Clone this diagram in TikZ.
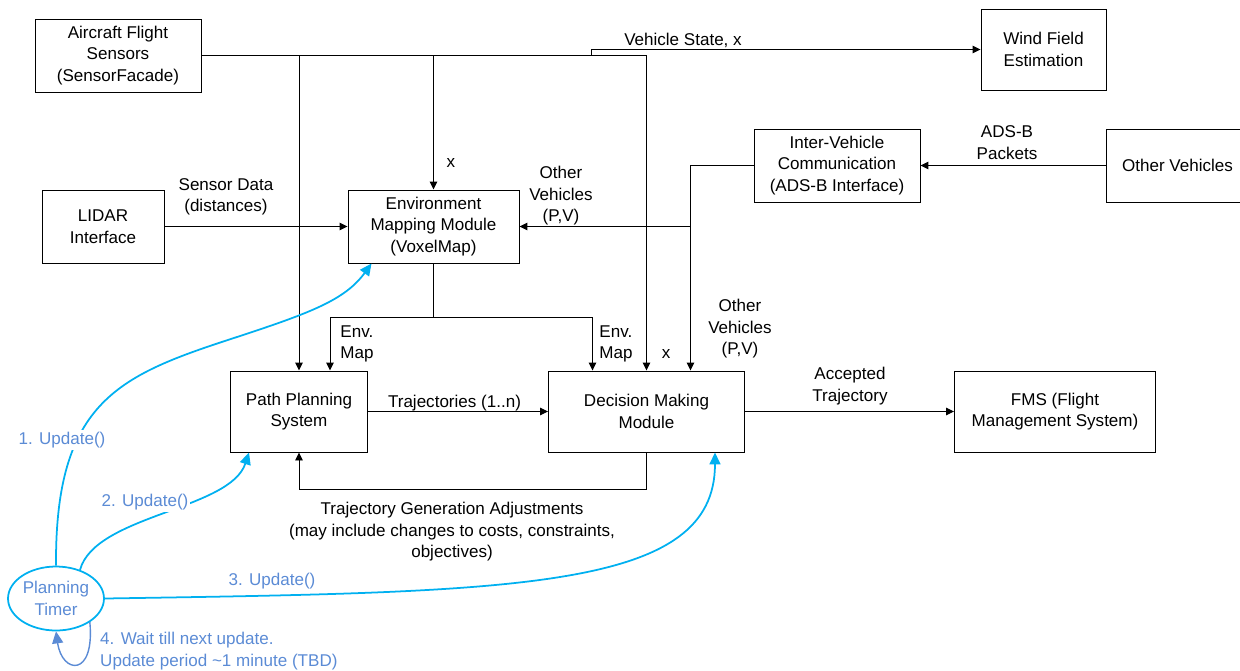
\documentclass[tikz,border=0pt]{standalone}
\usepackage{fontspec}
\setmainfont{Liberation Sans}
\usetikzlibrary{arrows.meta,shapes.geometric}
\definecolor{tcyan}{RGB}{0,176,240}
\definecolor{tblue}{RGB}{91,139,213}

\begin{document}
\begin{tikzpicture}[x=0.02cm, y=-0.02cm,
    font=\fontsize{9.7}{12.2}\selectfont,
    >={Triangle[length=1.6mm, width=1.5mm]},
    line width=0.55pt,
    box/.style={draw, align=center, inner sep=0pt},
    lbl/.style={align=center, inner sep=1pt},
    upd/.style={tcyan, line width=1pt, -{Triangle[length=2.4mm, width=2.2mm]}},
    note/.style={tblue, align=center, inner sep=1pt}]
\useasboundingbox (0, 0) rectangle (1240, 670);
\clip (0, 0) rectangle (1240, 670);

\node [box, minimum width=3.32cm, minimum height=1.46cm] (afs) at (118, 55.5) {Aircraft Flight\\Sensors\\(SensorFacade)};
\node [box, minimum width=2.5cm, minimum height=1.62cm] (wind) at (1043.5, 49.5) {Wind Field\\Estimation};
\node [box, minimum width=2.44cm, minimum height=1.46cm] (lidar) at (103, 226.5) {LIDAR\\Interface};
\node [box, minimum width=3.42cm, minimum height=1.46cm] (env) at (433.5, 226.5) {Environment\\Mapping Module\\(VoxelMap)};
\node [box, minimum width=3.32cm, minimum height=1.46cm] (ivc) at (837, 165.5) {Inter-Vehicle\\Communication\\(ADS-B Interface)};
\node [box, minimum width=2.84cm, minimum height=1.46cm] (othv) at (1177.5, 165.5) {Other Vehicles};
\node [box, minimum width=2.74cm, minimum height=1.62cm] (pps) at (299, 411.5) {Path Planning\\System};
\node [box, minimum width=3.92cm, minimum height=1.62cm] (dmm) at (646.5, 411.5) {Decision Making\\Module};
\node [box, minimum width=4.02cm, minimum height=1.62cm] (fms) at (1055, 411.5) {FMS (Flight\\Management System)};
\node [ellipse, draw=tcyan, line width=1pt, text=tblue, align=center, inner sep=0pt,
       minimum width=1.92cm, minimum height=1.28cm] (timer) at (56, 598.5) {Planning\\Timer};

\coordinate (jog) at (591.5, 55.5);
\coordinate (ovj) at (690.5, 226.5);
\coordinate (envj) at (433.5, 317);

\draw [->] (afs.east) -| (dmm.north);
\draw [->] (afs.east -| pps.north) -- (pps.north);
\draw [->] (afs.east -| env.north) -- (env.north);
\draw [->] (jog) |- (wind.west);
\draw [->] (lidar.east) -- (env.west);
\draw [->] (othv.west) -- (ivc.east);
\draw (ivc.west) -| (ovj);
\draw [->] (ovj) -- (env.east);
\draw [->] (ovj) -- (ovj |- dmm.north);
\draw (env.south) -- (envj);
\draw [->] (envj) -| ([xshift=0.62cm]pps.north);
\draw [->] (envj) -| ([xshift=-1.08cm]dmm.north);
\draw [->] (pps.east) -- (dmm.west);
\draw [->] (dmm.east) -- (fms.west);
\draw [->] (dmm.south) -- ++(0, 36.5) -| (pps.south);

\node [lbl] (vstate) at (683, 40) {Vehicle State, x};
\node [lbl] (xenv) at (451, 163) {x};
\node [lbl] (sdata) at (226, 197) {Sensor Data\\(distances)};
\node [lbl] (ovenv) at (561, 196) {Other\\Vehicles\\(P,V)};
\node [lbl] (adsb) at (1007, 142.5) {ADS-B\\Packets};
\node [lbl, align=left] (mapp) at (357, 344) {Env.\\Map};
\node [lbl, align=left] (mapd) at (616, 344) {Env.\\Map};
\node [lbl] (xdmm) at (666, 354) {x};
\node [lbl] (ovdmm) at (740, 329) {Other\\Vehicles\\(P,V)};
\node [lbl] (traj) at (454.5, 403) {Trajectories (1..n)};
\node [lbl] (acc) at (850, 386) {Accepted\\Trajectory};
\node [lbl] (tga) at (452, 532) {Trajectory Generation Adjustments\\(may include changes to costs, constraints,\\objectives)};

\draw [upd] (timer.north) .. controls (55, 400) and (120, 375) .. (237, 337)
    .. controls (310, 313) and (345, 300) .. ([xshift=0.48cm]env.south west);
\draw [upd] (timer.50) .. controls (95, 515) and (230, 510) .. ([xshift=-1cm]pps.south);
\draw [upd] (timer.east) .. controls (520, 592) and (715, 590) .. ([xshift=1.37cm]dmm.south);
\draw [tblue, line width=0.8pt, -{Triangle[length=2.4mm, width=2.2mm]}]
    (timer.-35) .. controls (95, 678) and (62, 674) .. (timer.south);

\node [note, fill=white] (up1) at (62, 440) {1. Update()};
\node [note, fill=white] (up2) at (145, 502) {2. Update()};
\node [note] (up3) at (272, 581) {3. Update()};
\node [note, align=left, anchor=west] (up4) at (98, 651) {4. Wait till next update.\\Update period \textasciitilde 1 minute (TBD)};
\end{tikzpicture}
\end{document}
